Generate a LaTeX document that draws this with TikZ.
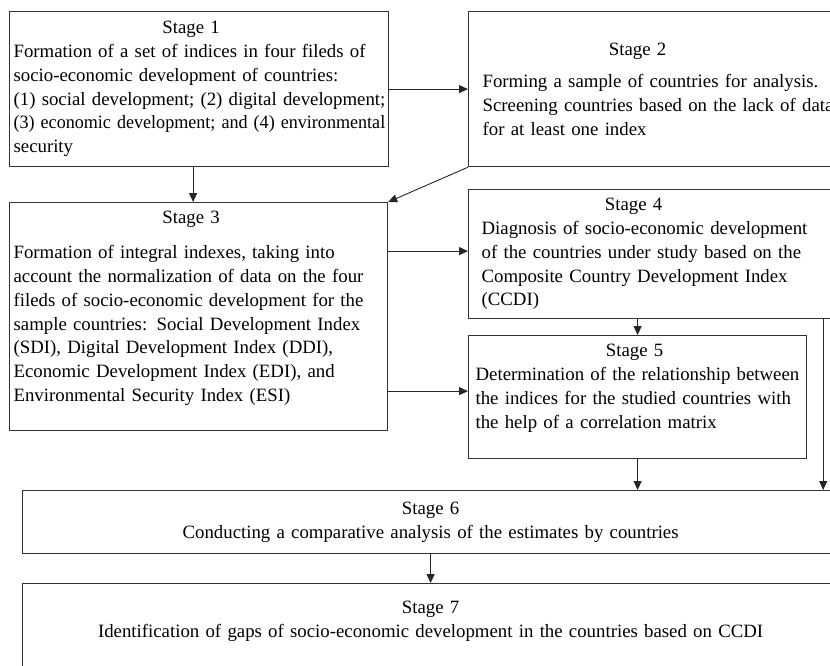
\documentclass[tikz,border=0pt]{standalone}
\usepackage{fontspec}
\usepackage{graphicx}
\setmainfont{Liberation Serif}
\usetikzlibrary{arrows.meta,positioning}
\newcommand{\stg}[2]{\makebox[#1pt]{#2}}
\newcommand{\padbot}[1]{\par\vspace{#1pt}\hrule height 0pt}

\begin{document}
\begin{tikzpicture}[x=1pt, y=-1pt, >={Triangle[length=9pt,width=8pt]},
  every node/.style={font=\fontsize{18.8}{23.8}\selectfont},
  stagebox/.style={draw=black!80, line width=1.2pt, rectangle, anchor=north west, align=left, inner ysep=0pt},
  link/.style={->, draw=black!85, line width=0.9pt}]
\useasboundingbox (0,0) rectangle (830,666);
\clip (0,0) rectangle (830,666);
\node[stagebox, text width=377pt, inner xsep=1pt, minimum height=155pt] (s1) at (9,11) {\hspace*{3pt}\stg{355}{Stage 1}\\
\hspace*{3pt}Formation of a set of indices in four fileds of\\
\hspace*{3pt}socio-economic development of countries:\\
\hspace*{3pt}(1) social development; (2) digital development;\\
\hspace*{3pt}\scalebox{0.962}[1]{(3) economic development; and (4) environmental}\\
\hspace*{3pt}security};
\node[stagebox, text width=372pt, inner xsep=14pt, minimum height=155pt] (s2) at (468,11) {\stg{310}{Stage 2}\\[9pt]
Forming a sample of countries for analysis.\\
Screening countries based on the lack of data\\
for at least one index};
\node[stagebox, text width=376pt, inner xsep=1pt, minimum height=228pt] (s3) at (9,202) {\hspace*{3pt}\stg{355}{Stage 3}\\[11pt]
\hspace*{3pt}Formation of integral indexes, taking into\\
\hspace*{3pt}account the normalization of data on the four\\
\hspace*{3pt}fileds of socio-economic development for the\\
\hspace*{3pt}sample countries: Social Development Index\\
\hspace*{3pt}(SDI), Digital Development Index (DDI),\\
\hspace*{3pt}Economic Development Index (EDI), and\\
\hspace*{3pt}Environmental Security Index (ESI)\padbot{16}};
\node[stagebox, text width=346pt, inner xsep=13pt, minimum height=129pt] (s4) at (468,189) {\stg{304}{Stage 4}\\
Diagnosis of socio-economic development\\
of the countries under study based on the\\
Composite Country Development Index\\
(CCDI)};
\node[stagebox, text width=336pt, inner xsep=1pt, minimum height=123pt] (s5) at (468,335) {\hspace*{6pt}\stg{318}{Stage 5}\\
\hspace*{6pt}Determination of the relationship between\\
\hspace*{6pt}the indices for the studied countries with\\
\hspace*{6pt}the help of a correlation matrix\padbot{18}};
\node[stagebox, align=center, text width=800pt, inner xsep=8pt, minimum height=63pt] (s6) at (22,490) {Stage 6\\
Conducting a comparative analysis of the estimates by countries};
\node[stagebox, align=center, text width=800pt, inner xsep=8pt, minimum height=90pt] (s7) at (22,583) {Stage 7\\
Identification of gaps of socio-economic development in the countries based on CCDI\padbot{14}};
\coordinate (c4) at ([yshift=3pt]s4.west);
\coordinate (c5) at ([yshift=6pt]s5.west);
\coordinate (c6) at ([xshift=-18pt]s4.south east);
\draw[link] (s1.east) -- (s2.west);
\draw[link] ([xshift=-6pt]s1.south) -- ([xshift=-6pt]s1.south |- s3.north);
\draw[link] (s2.south west) -- (s3.north east);
\draw[link] (c4 -| s3.east) -- (c4);
\draw[link] (c5 -| s3.east) -- (c5);
\draw[link] (s5.north |- s4.south) -- (s5.north);
\draw[link] (s5.south) -- (s5.south |- s6.north);
\draw[link] (c6) -- (c6 |- s6.north);
\draw[link] (s6.south) -- (s7.north);
\end{tikzpicture}
\end{document}
